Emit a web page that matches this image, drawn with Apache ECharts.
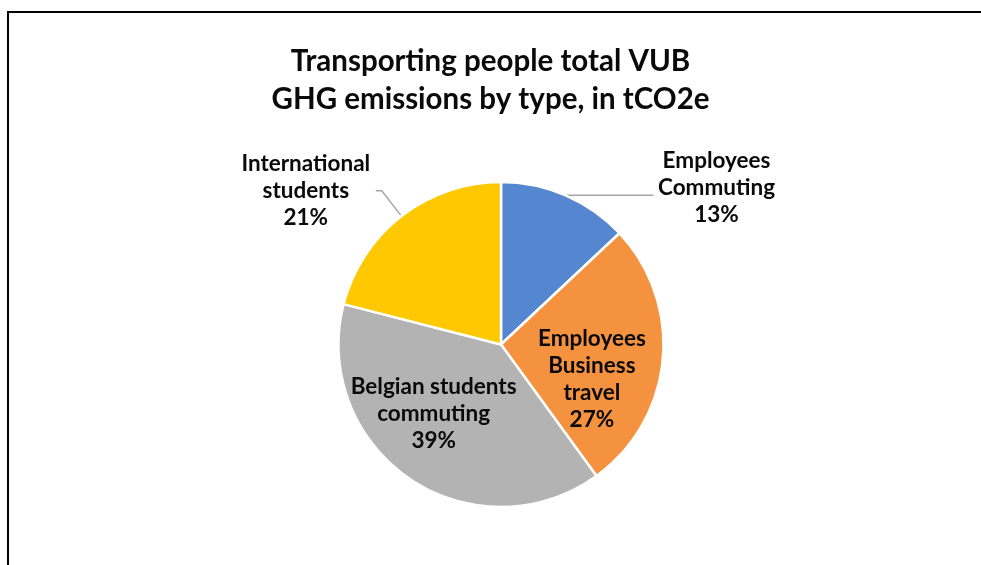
<!DOCTYPE html>
<html>
<head>
<meta charset="utf-8">
<script src="https://cdn.jsdelivr.net/npm/echarts@6/dist/echarts.min.js"></script>
<style>
html,body{margin:0;padding:0;background:#fff;}
#chart{width:981px;height:565px;}
</style>
</head>
<body>
<div id="chart"></div>
<script>
const titleLines = ['Transporting people total VUB', 'GHG emissions by type, in tCO2e'];
const categories = ['Employees Commuting', 'Employees Business travel', 'Belgian students commuting', 'International students'];
const labelLines = [['Employees', 'Commuting'], ['Employees', 'Business', 'travel'], ['Belgian students', 'commuting'], ['International', 'students']];
const values = [13, 27, 39, 21];
const colors = ['#5587D0', '#F4923F', '#B3B3B3', '#FFC800'];

const FONT = 'Lato';
const chart = echarts.init(document.getElementById('chart'), null, {renderer: 'canvas'});

function fmt(i) {
  return function (p) {
    const lines = labelLines[i].map(l => '{a|' + l + '}');
    lines.push('{a|' + Math.round(p.percent) + '%}');
    return lines.join('\n');
  };
}
function rich(w) {
  return {a: {width: w, align: 'center', fontFamily: FONT, fontWeight: 'bold', fontSize: 22.5, lineHeight: 27, color: '#0A0A0A'}};
}

const data = values.map((v, i) => {
  const d = {name: categories[i], value: v, itemStyle: {color: colors[i]}};
  if (i === 0) {
    d.label = {position: 'outside', formatter: fmt(0), rich: rich(116), padding: [0, 0, 16, 0]};
    d.labelLine = {show: true, length: 0, length2: 88};
  } else if (i === 3) {
    d.label = {position: 'outside', formatter: fmt(3), rich: rich(130), padding: [0, 0, 0, 0]};
    d.labelLine = {show: true, length: 32, length2: 6};
  } else if (i === 1) {
    d.label = {position: 'inside', formatter: fmt(1), rich: rich(120), offset: [7, 27]};
  } else {
    d.label = {position: 'inside', formatter: fmt(2), rich: rich(170), offset: [-20, 0]};
  }
  return d;
});

chart.setOption({
  animation: false,
  backgroundColor: '#fff',
  title: {
    text: titleLines.join('\n'),
    left: 'center',
    top: 37,
    textStyle: {fontFamily: FONT, fontWeight: 'bold', fontSize: 29.5, lineHeight: 38, color: '#0A0A0A'}
  },
  graphic: [{
    type: 'rect',
    shape: {x: 8, y: 12, width: 1100, height: 700},
    style: {fill: null, stroke: '#000', lineWidth: 2},
    silent: true
  }],
  series: [{
    type: 'pie',
    center: [501, 344.5],
    radius: [0, 162.5],
    startAngle: 90,
    clockwise: true,
    avoidLabelOverlap: false,
    itemStyle: {borderColor: '#fff', borderWidth: 2.5},
    label: {show: true, distanceToLabelLine: 5},
    labelLine: {lineStyle: {color: '#A6A6A6', width: 1.5}},
    emphasis: {disabled: true},
    data: data
  }]
});
</script>
</body>
</html>
